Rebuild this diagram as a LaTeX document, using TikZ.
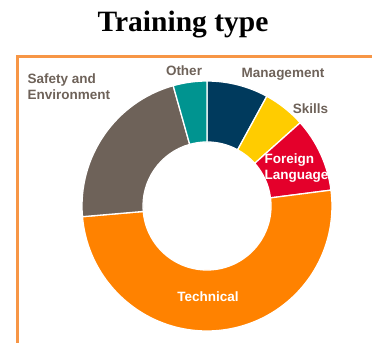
\documentclass[tikz,border=0pt]{standalone}
\usepackage{fontspec}
\setmainfont{Liberation Sans}
\newfontfamily\titlefont{Liberation Serif}
\usepackage{tikz}
\usetikzlibrary{calc}
\usepackage{color}

\definecolor{mgmtblue}{HTML}{003A5D}
\definecolor{skillyellow}{HTML}{FFCC00}
\definecolor{langred}{HTML}{E4002B}
\definecolor{techorange}{HTML}{FF8200}
\definecolor{safetygray}{HTML}{6E6259}
\definecolor{otherteal}{HTML}{009490}
\definecolor{framorange}{HTML}{F79646}

\begin{document}
\begin{tikzpicture}[x=1pt,y=1pt,
    slice/.style={draw=white,line width=1.3pt},
    lbl/.style={font=\fontsize{13.5}{16}\selectfont\bfseries,text=safetygray,align=left},
    inlbl/.style={font=\fontsize{13.5}{16}\selectfont\bfseries,text=white,align=left}]
              \tikzstyle{every node}+=[inner sep=0pt]
              \useasboundingbox (0,0) rectangle (372,343);
              \coordinate (c) at (207,137);
              % frame
              \draw [framorange,line width=3pt] (372,286.5) -- (17,286.5) -- (17,0);
              % title
              \node (title) at (183,318) {\titlefont\fontsize{29.5}{32}\selectfont\bfseries Training type};
              % slices
              \fill [mgmtblue,slice] ($(c)+(61.4:125)$) arc (61.4:90:125) -- ($(c)+(90:64)$) arc (90:61.4:64) -- cycle;
              \fill [skillyellow,slice] ($(c)+(41.8:125)$) arc (41.8:61.4:125) -- ($(c)+(61.4:64)$) arc (61.4:41.8:64) -- cycle;
              \fill [langred,slice] ($(c)+(7.3:125)$) arc (7.3:41.8:125) -- ($(c)+(41.8:64)$) arc (41.8:7.3:64) -- cycle;
              \fill [techorange,slice] ($(c)+(-175.1:125)$) arc (-175.1:7.3:125) -- ($(c)+(7.3:64)$) arc (7.3:-175.1:64) -- cycle;
              \fill [safetygray,slice] ($(c)+(105.7:125)$) arc (105.7:184.9:125) -- ($(c)+(184.9:64)$) arc (184.9:105.7:64) -- cycle;
              \fill [otherteal,slice] ($(c)+(90:125)$) arc (90:105.7:125) -- ($(c)+(105.7:64)$) arc (105.7:90:64) -- cycle;
              % labels
              \node [lbl,anchor=west] (safety) at (27.5,256) {Safety and\\Environment};
              \node [lbl] (other) at (184,272) {Other};
              \node [lbl] (mgmt) at (283,269) {Management};
              \node [lbl] (skills) at (310.5,234) {Skills};
              \node [inlbl,anchor=west] (lang) at (264.5,175) {Foreign\\Language};
              \node [inlbl] (tech) at (208,46) {Technical};
\end{tikzpicture}
\end{document}
